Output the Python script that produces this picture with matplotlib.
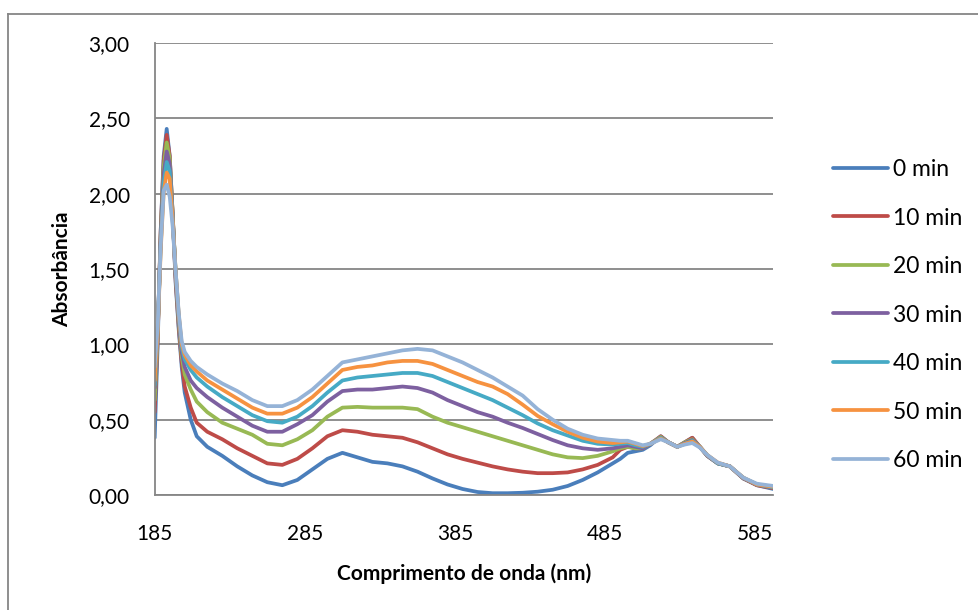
import matplotlib.pyplot as plt
from matplotlib.lines import Line2D

plt.rcParams['font.family'] = ['Lato', 'DejaVu Sans']

# wavelength (nm)
wl = [185, 187, 189, 191, 193, 195, 197, 199, 201, 203, 205, 209, 213, 220, 230, 240, 250, 260, 270, 280, 290,
      300, 310, 320, 330, 340, 350, 360, 370, 380, 390, 400, 410, 420, 430, 440, 450, 460, 470,
      480, 490, 495, 500, 505, 510, 515, 522, 527, 533, 538, 543, 548, 553, 560, 568, 577, 586, 597]

abs_0 = [0.38, 1.00, 1.75, 2.25, 2.43, 2.25, 1.85, 1.40, 1.10, 0.85, 0.68, 0.50, 0.39, 0.32, 0.26, 0.19, 0.13, 0.085, 0.065, 0.10, 0.17,
         0.24, 0.28, 0.25, 0.22, 0.21, 0.19, 0.155, 0.11, 0.07, 0.04, 0.02, 0.012, 0.012, 0.015, 0.022, 0.035, 0.06, 0.10,
         0.15, 0.21, 0.24, 0.28, 0.29, 0.30, 0.33, 0.39, 0.35, 0.32, 0.35, 0.38, 0.32, 0.26, 0.21, 0.19, 0.11, 0.065, 0.04]
abs_10 = [0.55, 1.05, 1.75, 2.22, 2.39, 2.25, 1.86, 1.42, 1.12, 0.88, 0.72, 0.58, 0.48, 0.42, 0.37, 0.31, 0.26, 0.21, 0.20, 0.24, 0.31,
          0.39, 0.43, 0.42, 0.40, 0.39, 0.38, 0.35, 0.31, 0.27, 0.24, 0.215, 0.19, 0.17, 0.155, 0.145, 0.145, 0.15, 0.17,
          0.20, 0.25, 0.30, 0.32, 0.31, 0.31, 0.34, 0.39, 0.35, 0.32, 0.35, 0.38, 0.32, 0.26, 0.21, 0.19, 0.11, 0.065, 0.045]
abs_20 = [0.63, 1.08, 1.72, 2.18, 2.34, 2.23, 1.86, 1.45, 1.15, 0.92, 0.80, 0.70, 0.62, 0.55, 0.48, 0.44, 0.40, 0.34, 0.33, 0.37, 0.43,
          0.52, 0.58, 0.585, 0.58, 0.58, 0.58, 0.57, 0.52, 0.48, 0.45, 0.42, 0.39, 0.36, 0.33, 0.30, 0.27, 0.25, 0.245,
          0.26, 0.29, 0.31, 0.32, 0.31, 0.31, 0.34, 0.385, 0.35, 0.32, 0.35, 0.37, 0.32, 0.26, 0.21, 0.19, 0.11, 0.07, 0.05]
abs_30 = [0.71, 1.10, 1.70, 2.13, 2.28, 2.20, 1.85, 1.45, 1.17, 0.95, 0.85, 0.76, 0.71, 0.65, 0.58, 0.52, 0.46, 0.42, 0.42, 0.47, 0.53,
          0.62, 0.69, 0.70, 0.70, 0.71, 0.72, 0.71, 0.68, 0.63, 0.59, 0.55, 0.52, 0.48, 0.445, 0.405, 0.365, 0.33, 0.31,
          0.30, 0.31, 0.32, 0.33, 0.32, 0.31, 0.34, 0.38, 0.35, 0.32, 0.345, 0.365, 0.32, 0.26, 0.21, 0.19, 0.11, 0.07, 0.05]
abs_40 = [0.73, 1.10, 1.65, 2.07, 2.21, 2.15, 1.83, 1.48, 1.19, 0.98, 0.90, 0.83, 0.78, 0.72, 0.65, 0.59, 0.53, 0.49, 0.48, 0.52, 0.59,
          0.68, 0.76, 0.78, 0.79, 0.80, 0.81, 0.81, 0.79, 0.75, 0.71, 0.67, 0.63, 0.58, 0.53, 0.475, 0.43, 0.395, 0.36,
          0.34, 0.335, 0.34, 0.345, 0.33, 0.32, 0.34, 0.38, 0.35, 0.32, 0.34, 0.36, 0.32, 0.265, 0.21, 0.19, 0.115, 0.07, 0.05]
abs_50 = [0.76, 1.08, 1.62, 2.01, 2.14, 2.10, 1.82, 1.48, 1.20, 1.00, 0.93, 0.86, 0.82, 0.76, 0.70, 0.64, 0.58, 0.54, 0.54, 0.58, 0.65,
          0.74, 0.83, 0.85, 0.86, 0.88, 0.89, 0.89, 0.87, 0.83, 0.79, 0.75, 0.72, 0.67, 0.60, 0.525, 0.47, 0.42, 0.38,
          0.355, 0.345, 0.35, 0.355, 0.34, 0.325, 0.34, 0.375, 0.35, 0.32, 0.34, 0.355, 0.32, 0.265, 0.215, 0.19, 0.115, 0.07, 0.055]
abs_60 = [0.85, 1.12, 1.65, 2.02, 2.06, 1.98, 1.78, 1.48, 1.21, 1.02, 0.95, 0.89, 0.85, 0.80, 0.74, 0.69, 0.63, 0.59, 0.59, 0.63, 0.70,
          0.79, 0.88, 0.90, 0.92, 0.94, 0.96, 0.97, 0.96, 0.92, 0.88, 0.83, 0.78, 0.72, 0.66, 0.57, 0.50, 0.44, 0.40,
          0.375, 0.365, 0.36, 0.36, 0.345, 0.33, 0.34, 0.37, 0.35, 0.32, 0.335, 0.345, 0.315, 0.265, 0.215, 0.19, 0.115, 0.075, 0.06]

series = [abs_0, abs_10, abs_20, abs_30, abs_40, abs_50, abs_60]
labels = ['0 min', '10 min', '20 min', '30 min', '40 min', '50 min', '60 min']
colors = ['#4A7EBB', '#BE4B48', '#98B954', '#7D60A0', '#46AAC5', '#F69240', '#95B3D7']

xticks = [185, 285, 385, 485, 585]
yticks = [0, 0.5, 1.0, 1.5, 2.0, 2.5, 3.0]
ytick_labels = ['0,00', '0,50', '1,00', '1,50', '2,00', '2,50', '3,00']

fig = plt.figure(figsize=(9.79, 6.10), dpi=100)
ax = fig.add_axes([0.158, 0.1885, 0.632, 0.741])

for y, lab, c in zip(series, labels, colors):
    ax.plot(wl, y, color=c, lw=2.7, label=lab, solid_capstyle='round', solid_joinstyle='round')

ax.set_xlim(185, 597)
ax.set_ylim(0, 3.0)
ax.set_xticks(xticks)
ax.set_yticks(yticks)
ax.set_yticklabels(ytick_labels)
ax.yaxis.grid(True, color='#868686', lw=1.3)
ax.set_axisbelow(True)
for s in ['top', 'right']:
    ax.spines[s].set_visible(False)
for s in ['left', 'bottom']:
    ax.spines[s].set_color('#868686')
    ax.spines[s].set_linewidth(1.3)
ax.tick_params(axis='x', length=0, pad=21, labelsize=15)
ax.tick_params(axis='y', length=0, pad=18, labelsize=15)

ax.set_xlabel('Comprimento de onda (nm)', fontsize=15, fontweight='bold', labelpad=14)
ax.set_ylabel('Absorbância', fontsize=15, fontweight='bold', labelpad=12)

ax.legend(loc='center left', bbox_to_anchor=(0.851, 0.4836), bbox_transform=fig.transFigure,
          frameon=False, fontsize=16.5, handlelength=2.4, handletextpad=0.2, labelspacing=1.2,
          borderpad=0, borderaxespad=0)

# chart area border
fig.add_artist(Line2D([8 / 979, 1.0], [1 - 14 / 610, 1 - 14 / 610], transform=fig.transFigure,
                      color='#868686', lw=1.3))
fig.add_artist(Line2D([8 / 979, 8 / 979], [0.0, 1 - 14 / 610], transform=fig.transFigure,
                      color='#868686', lw=1.3))

fig.savefig('out.png', dpi=100)
